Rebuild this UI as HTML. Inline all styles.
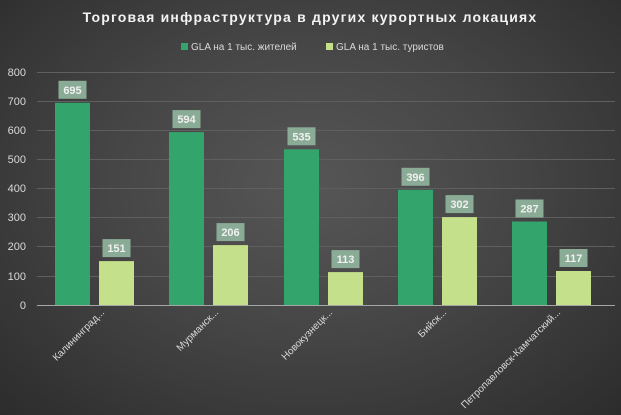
<!DOCTYPE html>
<html><head><meta charset="utf-8"><style>
html,body{margin:0;padding:0}
body{width:621px;height:415px;overflow:hidden;background:radial-gradient(ellipse at 50% 45%,#565656 0%,#464646 45%,#2c2c2c 100%);font-family:"Liberation Sans",sans-serif}
</style></head><body>
<svg width="621" height="415" xmlns="http://www.w3.org/2000/svg" style="position:absolute;left:0;top:0" font-family="Liberation Sans, sans-serif">
<text x="310" y="22" text-anchor="middle" fill="#f2f2f2" font-size="14" font-weight="bold" letter-spacing="1.2">Торговая инфраструктура в других курортных локациях</text>
<rect x="181" y="43" width="7" height="7" fill="#33a56c"/>
<text x="191" y="50" fill="#d9d9d9" font-size="10">GLA на 1 тыс. жителей</text>
<rect x="326" y="43" width="7" height="7" fill="#c5e08b"/>
<text x="336" y="50" fill="#d9d9d9" font-size="10">GLA на 1 тыс. туристов</text>
<g stroke="#5f5f5f" stroke-width="1">
<line x1="37" x2="615" y1="72.5" y2="72.5"/><line x1="37" x2="615" y1="101.5" y2="101.5"/>
<line x1="37" x2="615" y1="130.5" y2="130.5"/><line x1="37" x2="615" y1="159.5" y2="159.5"/>
<line x1="37" x2="615" y1="188.5" y2="188.5"/><line x1="37" x2="615" y1="217.5" y2="217.5"/>
<line x1="37" x2="615" y1="246.5" y2="246.5"/><line x1="37" x2="615" y1="276.5" y2="276.5"/>
</g>
<g fill="#d9d9d9" font-size="11" text-anchor="end">
<text x="26" y="76">800</text><text x="26" y="105">700</text><text x="26" y="134">600</text>
<text x="26" y="163">500</text><text x="26" y="192">400</text><text x="26" y="221">300</text>
<text x="26" y="250">200</text><text x="26" y="280">100</text><text x="26" y="309">0</text>
</g>
<g fill="#33a56c">
<rect x="55" y="102.8" width="35" height="202.2"/>
<rect x="169" y="132.1" width="35" height="172.9"/>
<rect x="284" y="149.3" width="35" height="155.7"/>
<rect x="398" y="189.8" width="35" height="115.2"/>
<rect x="512" y="221.5" width="35" height="83.5"/>
</g>
<g fill="#c5e08b">
<rect x="99" y="261.1" width="35" height="43.9"/>
<rect x="213" y="245.1" width="35" height="59.9"/>
<rect x="328" y="272.1" width="35" height="32.9"/>
<rect x="442" y="217.1" width="35" height="87.9"/>
<rect x="556" y="271" width="35" height="34"/>
</g>
<g fill="#8aab96">
<rect x="58.5" y="80.8" width="28" height="18"/>
<rect x="172.5" y="110.1" width="28" height="18"/>
<rect x="287.5" y="127.3" width="28" height="18"/>
<rect x="401.5" y="167.8" width="28" height="18"/>
<rect x="515.5" y="199.5" width="28" height="18"/>
<rect x="102.5" y="239.1" width="28" height="18"/>
<rect x="216.5" y="223.1" width="28" height="18"/>
<rect x="331.5" y="250.1" width="28" height="18"/>
<rect x="445.5" y="195.1" width="28" height="18"/>
<rect x="559.5" y="249" width="28" height="18"/>
</g>
<g fill="#f0f0f0" font-size="11" font-weight="bold" text-anchor="middle">
<text x="72.5" y="93.8">695</text>
<text x="186.5" y="123.1">594</text>
<text x="301.5" y="140.3">535</text>
<text x="415.5" y="180.8">396</text>
<text x="529.5" y="212.5">287</text>
<text x="116.5" y="252.1">151</text>
<text x="230.5" y="236.1">206</text>
<text x="345.5" y="263.1">113</text>
<text x="459.5" y="208.1">302</text>
<text x="573.5" y="262">117</text>
</g>
<line x1="37" x2="615" y1="305.5" y2="305.5" stroke="#a6a6a6" stroke-width="1"/>
<g fill="#d9d9d9" font-size="10" text-anchor="end">
<text transform="translate(105,313) rotate(-45)">Калининград...</text>
<text transform="translate(219,313) rotate(-45)">Мурманск...</text>
<text transform="translate(333,313) rotate(-45)">Новокузнецк...</text>
<text transform="translate(447,313) rotate(-45)">Бийск...</text>
<text transform="translate(561,313) rotate(-45)">Петропавловск-Камчатский...</text>
</g>
</svg>
</body></html>
